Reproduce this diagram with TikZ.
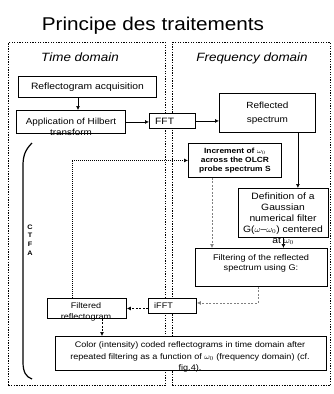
\documentclass[tikz,border=0pt]{standalone}
\usepackage{fontspec}
\setmainfont{Liberation Sans}[FakeStretch=1.12]
\usetikzlibrary{arrows.meta}
\newcommand\stepfont{\fontsize{9.2}{11}\selectfont}
\newcommand\smallstepfont{\fontsize{8.1}{11}\selectfont}
\tikzset{
  domainbox/.style={draw, line width=0.9pt, dash pattern=on 1.3pt off 1.3pt,
    anchor=north west, inner sep=0pt},
  stepbox/.style={draw, line width=0.9pt, fill=white, anchor=north west,
    inner sep=0pt, align=center, font=\stepfont},
  steptext/.style={inner sep=0pt, align=center, font=\stepfont},
  flow/.style={-{Latex[length=4pt,width=4pt]}, line width=0.7pt},
  graydash/.style={flow, gray, dash pattern=on 2pt off 1.5pt},
  blackdash/.style={flow, dash pattern=on 2pt off 1.5pt},
  blackdot/.style={flow, dash pattern=on 1pt off 1pt}
}
\begin{document}
\begin{tikzpicture}[x=1pt,y=-1pt]
  \useasboundingbox (0,0) rectangle (334,394);
  \node[anchor=base, inner sep=0pt, font=\fontsize{18.5}{20}\selectfont]
    (title) at (153,30) {Principe des traitements};
  \node[domainbox, minimum width=157, minimum height=343] (timedom) at (8,42) {};
  \node[domainbox, minimum width=158, minimum height=343] (freqdom) at (172,42) {};
  \node[anchor=base, inner sep=0pt, font=\fontsize{12}{14}\selectfont\itshape]
    (timelabel) at (80,61) {Time domain};
  \node[anchor=base, inner sep=0pt, font=\fontsize{12}{14}\selectfont\itshape]
    (freqlabel) at (252,61) {Frequency domain};

  \node[stepbox, minimum width=138, minimum height=21] (refacq) at (18,76)
    {Reflectogram acquisition};
  \node[stepbox, minimum width=109, minimum height=23] (hilbert) at (16,110) {};
  \node[steptext, font=\fontsize{8.8}{11}\selectfont] (hilberttext) at (71,127)
    {Application of Hilbert\\transform};
  \node[stepbox, minimum width=46, minimum height=15] (fft) at (149,113) {};
  \node[steptext, anchor=west] (ffttext) at (155,121) {FFT};
  \node[stepbox, minimum width=96, minimum height=39,
    font=\fontsize{8.9}{14}\selectfont] (refspec) at (219,93)
    {Reflected\\spectrum};
  \node[stepbox, minimum width=93, minimum height=34,
    font=\fontsize{7.5}{9}\selectfont\bfseries] (increment) at (188,143)
    {Increment of $\omega_0$\\across the OLCR\\probe spectrum S};
  \node[stepbox, minimum width=90, minimum height=49] (definition) at (238,188) {};
  \node[steptext] (definitiontext) at (283,218.5)
    {Definition of a\\Gaussian\\numerical filter\\G($\omega$--$\omega_0$) centered\\at $\omega_0$};
  \node[stepbox, minimum width=132, minimum height=38] (filtering) at (195,248) {};
  \node[steptext, font=\fontsize{8.2}{10.5}\selectfont] (filteringtext) at (261,263.5)
    {Filtering of the reflected\\spectrum using G:};
  \node[stepbox, minimum width=48, minimum height=15] (ifft) at (148,298) {};
  \node[steptext, anchor=west, font=\smallstepfont] (iffttext) at (154,306) {iFFT};
  \node[stepbox, minimum width=79, minimum height=20] (filtered) at (47,298) {};
  \node[steptext, font=\smallstepfont] (filteredtext) at (86,312) {Filtered\\reflectogram};
  \node[stepbox, minimum width=271, minimum height=34] (color) at (55,336) {};
  \node[steptext, font=\fontsize{8.1}{11.5}\selectfont] (colortext) at (190,357)
    {Color (intensity) coded reflectograms in time domain after\\
     repeated filtering as a function of $\omega_0$ (frequency domain) (cf.\\fig.4).};

  \draw[line width=1.2pt] (32,143) .. controls (25,150) and (23,156) .. (23,166)
    -- (23,362) .. controls (23,372) and (26,377) .. (32,379);
  \node[inner sep=0pt, align=center, font=\fontsize{6.5}{8.7}\selectfont\bfseries]
    (ctfa) at (30,240) {C\\T\\F\\A};

  \draw[flow] ([xshift=60pt]refacq.south west) -- ([xshift=60pt]refacq.south west |- hilbert.north);
  \draw[flow] (hilbert.east) -- (hilbert.east -| fft.west);
  \draw[flow] (fft.east) -- (fft.east -| refspec.west);
  \draw[flow] ([xshift=-18pt]refspec.south east) -- ([xshift=-18pt]refspec.south east |- definition.north);
  \draw[flow] (definition.south) -- (definition.south |- filtering.north);
  \draw[graydash] ([xshift=24pt]increment.south west) -- ([xshift=24pt]increment.south west |- filtering.north);
  \draw[graydash] ([xshift=63pt]filtering.south west) |- ([yshift=3pt]ifft.east);
  \draw[blackdash] (filtered.east -| ifft.west) -- (filtered.east);
  \draw[blackdash] ([xshift=55pt]filtered.south west) -- ([xshift=55pt]filtered.south west |- color.north);
  \draw[blackdot] ([xshift=25pt]filtered.north west) |- (increment.west);
\end{tikzpicture}
\end{document}
